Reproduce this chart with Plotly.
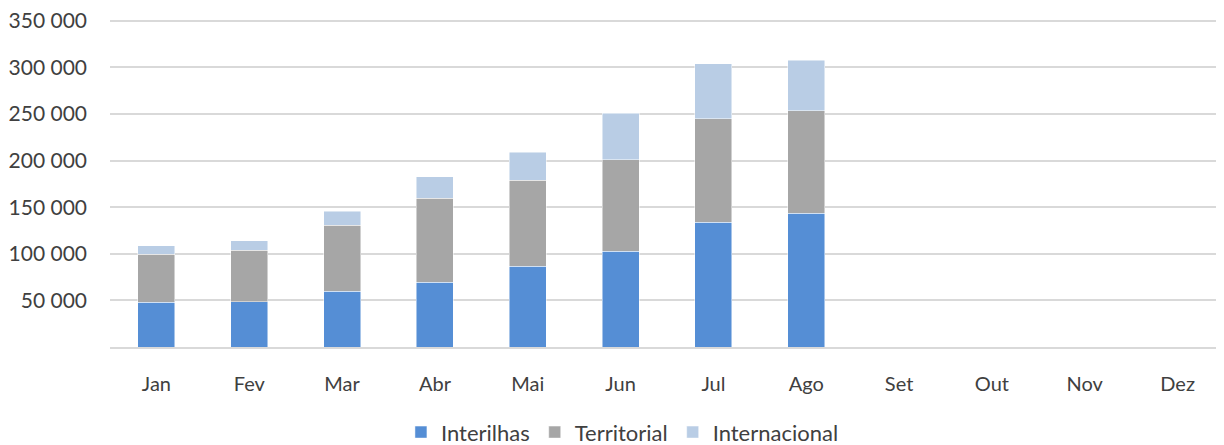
import plotly.graph_objects as go

months = ["Jan", "Fev", "Mar", "Abr", "Mai", "Jun", "Jul", "Ago", "Set", "Out", "Nov", "Dez"]
interilhas = [48000, 48400, 59800, 69400, 86600, 102600, 133700, 143300, None, None, None, None]
territorial = [51800, 55700, 70700, 90000, 92100, 98300, 111400, 110400, None, None, None, None]
internacional = [8600, 10000, 15400, 23300, 30400, 50000, 59000, 54000, None, None, None, None]
y_ticks = [50000, 100000, 150000, 200000, 250000, 300000, 350000]
y_tick_text = ["50 000", "100 000", "150 000", "200 000", "250 000", "300 000", "350 000"]

font_family = "Lato, Carlito, 'Open Sans', sans-serif"
text_color = "#404040"

fig = go.Figure()
for name, vals, col in [("Interilhas", interilhas, "#558ED5"),
                        ("Territorial", territorial, "#A6A6A6"),
                        ("Internacional", internacional, "#B9CDE5")]:
    fig.add_trace(go.Bar(x=months, y=vals, name=name,
                         marker=dict(color=col, line=dict(color="rgba(255,255,255,0.6)", width=0.8))))

# page body has an 8px default margin, so the figure is 8px smaller in each direction
fig.update_layout(
    barmode="stack",
    bargap=0.6,
    width=1216, height=437,
    margin=dict(l=102, r=0, t=11, b=97.5, pad=0, autoexpand=False),
    paper_bgcolor="white", plot_bgcolor="white",
    font=dict(family=font_family, size=21, color=text_color),
    showlegend=True,
    legend=dict(orientation="h", x=0.46, xanchor="center", y=-0.26, yanchor="middle",
                font=dict(size=22, color=text_color), itemwidth=30, traceorder="normal"),
    xaxis=dict(showline=True, linecolor="#D9D9D9", linewidth=1.5, showgrid=False, automargin=False,
               ticks="", ticklabelstandoff=18, tickfont=dict(size=20)),
    yaxis=dict(range=[0, 352000], tickvals=y_ticks, ticktext=y_tick_text, automargin=False,
               ticklabeloverflow="allow",
               showgrid=True, gridcolor="#D9D9D9", gridwidth=1.5, zeroline=False,
               ticks="", ticklabelstandoff=22, tickfont=dict(size=21)),
)

fig.write_html("out.html")
